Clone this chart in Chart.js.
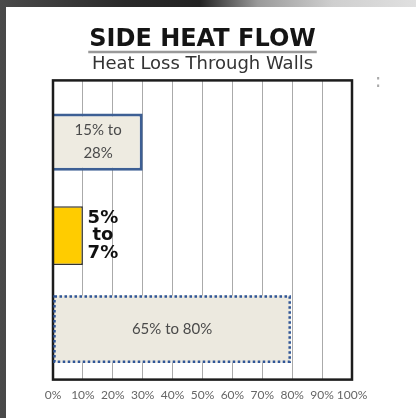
<!DOCTYPE html>
<html>
<head>
<meta charset="utf-8">
<script src="https://cdn.jsdelivr.net/npm/chart.js@4/dist/chart.umd.min.js"></script>
<style>
  html, body { margin: 0; padding: 0; }
  body {
    width: 416px; height: 418px; overflow: hidden; position: relative;
    background: linear-gradient(to right, #4a4a4a 0%, #2a2a2a 30%, #222 48%, #9a9a9a 62%, #cfcfcf 80%, #e0e0e0 100%);
  }
  #wrap { position: absolute; left: 6px; top: 7px; width: 410px; height: 411px; background: #fff; }
  canvas { display: block; }
</style>
</head>
<body>
<div id="wrap"><canvas id="c" width="410" height="411"></canvas></div>
<script>
// ---- data ----
const categories = ["Ceiling band", "Middle band", "Floor band"];
const barValues = [30, 10, 79.5];
const barLabels = [["15% to", "28%"], ["5%", "to", "7%"], ["65% to 80%"]];
const tickValues = [0, 10, 20, 30, 40, 50, 60, 70, 80, 90, 100];
const titleText = "SIDE HEAT FLOW";
const subtitleText = "Heat Loss Through Walls";

function point(i) { return [{ x: barValues[i], y: i }]; }

const frameAndLabels = {
  id: 'frameAndLabels',
  afterDraw(chart) {
    const ctx = chart.ctx;
    const a = chart.chartArea;
    ctx.save();
    // title underline
    ctx.font = 'bold 24px "DejaVu Sans"';
    const w = ctx.measureText(titleText).width;
    const cx = (a.left + a.right) / 2;
    ctx.strokeStyle = '#999';
    ctx.lineWidth = 2.5;
    ctx.beginPath();
    ctx.moveTo(cx - w / 2 - 1, 45);
    ctx.lineTo(cx + w / 2 + 1, 45);
    ctx.stroke();
    // frame
    ctx.strokeStyle = '#1c1c1c';
    ctx.lineWidth = 2.5;
    ctx.strokeRect(a.left, a.top, a.right - a.left, a.bottom - a.top);
    // dotted border for the floor bar
    const el = chart.getDatasetMeta(2).data[0];
    ctx.strokeStyle = '#2f5597';
    ctx.lineWidth = 2.5;
    ctx.setLineDash([2.5, 2.5]);
    ctx.strokeRect(el.base + 1, el.y - el.height / 2 + 1, el.x - el.base - 2, el.height - 2);
    ctx.setLineDash([]);
    // labels
    ctx.textAlign = 'center';
    ctx.textBaseline = 'middle';
    chart.data.datasets.forEach((ds, i) => {
      const e = chart.getDatasetMeta(i).data[0];
      const lines = barLabels[i];
      if (i === 1) {
        ctx.font = 'bold 18px "DejaVu Sans"';
        ctx.fillStyle = '#111';
        const x = e.x + 20;
        lines.forEach((s, k) => ctx.fillText(s, x, e.y + (k - 1) * 17.5));
      } else {
        ctx.font = '15px "Lato"';
        ctx.fillStyle = '#4a4a4a';
        const x = (e.x + e.base) / 2;
        const n = lines.length;
        lines.forEach((s, k) => ctx.fillText(s, x, e.y + (k - (n - 1) / 2) * 23));
      }
    });
    // small mark at right
    ctx.font = '20px "DejaVu Sans"';
    ctx.fillStyle = '#aaa';
    ctx.fillText(':', 372, 75);
    ctx.restore();
  }
};

new Chart(document.getElementById('c'), {
  type: 'bar',
  data: {
    labels: categories,
    datasets: [
      { label: categories[0], data: point(0), grouped: false, backgroundColor: '#eeebe1', borderColor: '#3d5f94', borderWidth: 3, barPercentage: 0.61, categoryPercentage: 1 },
      { label: categories[1], data: point(1), grouped: false, backgroundColor: '#ffcc00', borderColor: '#333', borderWidth: 1.5, barPercentage: 0.63, categoryPercentage: 1 },
      { label: categories[2], data: point(2), grouped: false, backgroundColor: '#ece9df', borderWidth: 0, barPercentage: 0.72, categoryPercentage: 1 }
    ]
  },
  options: {
    indexAxis: 'y',
    responsive: false,
    animation: false,
    layout: { padding: { left: 47, right: 64, top: 0, bottom: 8 } },
    scales: {
      x: {
        min: 0, max: 100,
        afterBuildTicks(axis) { axis.ticks = tickValues.map(v => ({ value: v })); },
        ticks: { callback: v => v + '%', color: '#666', font: { family: 'Lato', size: 12 }, padding: 8, maxRotation: 0, autoSkip: false },
        grid: { color: '#aaaaaa', lineWidth: 1, drawTicks: false },
        border: { display: false }
      },
      y: {
        type: 'linear', reverse: true, min: -0.66, max: 2.54, offset: false, display: false,
        afterBuildTicks(axis) { axis.ticks = categories.map((c, i) => ({ value: i })); },
        grid: { display: false, offset: false }
      }
    },
    plugins: {
      legend: { display: false },
      tooltip: { enabled: false },
      title: { display: true, fullSize: false, text: titleText, color: '#151515', font: { family: 'DejaVu Sans', size: 24, weight: 'bold' }, padding: { top: 18, bottom: 0 } },
      subtitle: { display: true, fullSize: false, text: subtitleText, color: '#333', font: { family: 'DejaVu Sans', size: 18 }, padding: { top: 0, bottom: 5 } }
    }
  },
  plugins: [frameAndLabels]
});
</script>
</body>
</html>
